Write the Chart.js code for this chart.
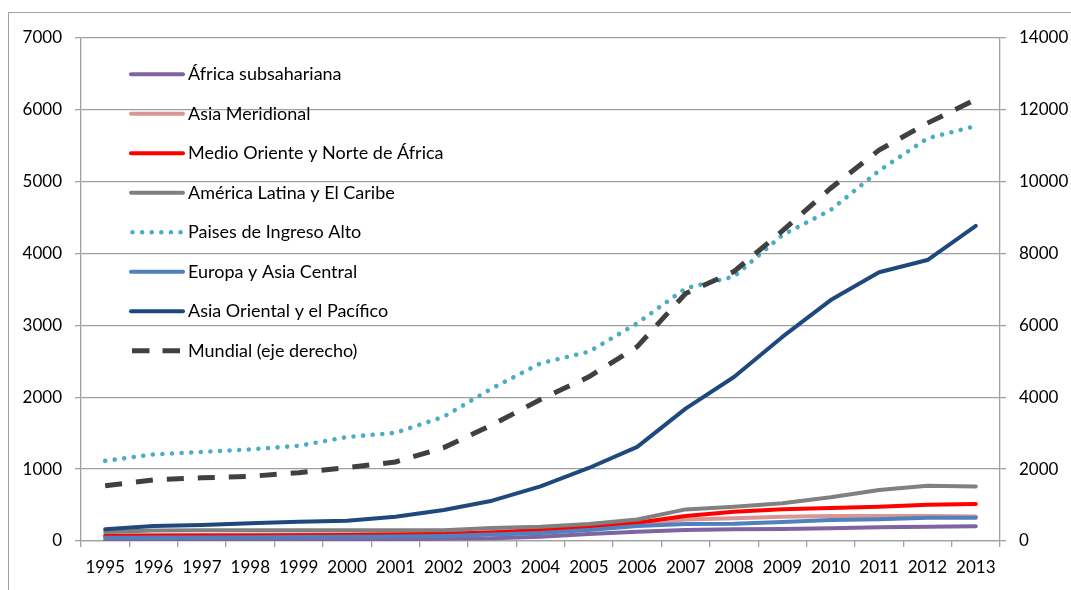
<!DOCTYPE html>
<html>
<head>
<meta charset="utf-8">
<script src="https://cdn.jsdelivr.net/npm/chart.js@4/dist/chart.umd.min.js"></script>
<style>
  html, body { margin: 0; padding: 0; background: #fff; }
  #wrap { position: relative; width: 1071px; height: 590px; }
</style>
</head>
<body>
<div id="wrap"><canvas id="c" width="1071" height="590"></canvas></div>
<script>
const years = ['1995','1996','1997','1998','1999','2000','2001','2002','2003','2004','2005','2006','2007','2008','2009','2010','2011','2012','2013'];

const africaSub   = [15, 17, 18, 20, 22, 24, 26, 30, 37, 60, 97, 130, 153, 163, 167, 177, 190, 199, 204];
const asiaMerid   = [80, 82, 85, 88, 90, 95, 100, 108, 125, 150, 180, 230, 300, 316, 338, 348, 348, 348, 340];
const medioOr     = [70, 72, 75, 78, 80, 85, 90, 100, 120, 153, 199, 255, 348, 408, 441, 459, 477, 505, 515];
const americaLat  = [125, 145, 150, 150, 148, 150, 148, 150, 180, 200, 237, 300, 440, 477, 525, 608, 710, 770, 760];
const ingresoAlto = [1115, 1205, 1240, 1275, 1325, 1447, 1505, 1730, 2125, 2473, 2634, 3030, 3517, 3680, 4258, 4606, 5153, 5604, 5775];
const europaAsia  = [46, 48, 50, 52, 55, 58, 62, 70, 90, 111, 153, 209, 237, 240, 264, 292, 302, 324, 325];
const asiaOrient  = [163, 209, 223, 247, 269, 282, 338, 431, 561, 760, 1016, 1310, 1843, 2282, 2840, 3353, 3740, 3910, 4384];
const mundial     = [1540, 1700, 1760, 1800, 1900, 2040, 2200, 2600, 3230, 3940, 4570, 5410, 6890, 7500, 8630, 9820, 10880, 11630, 12290];

const leftTicks  = [0, 1000, 2000, 3000, 4000, 5000, 6000, 7000];
const rightTicks = [0, 2000, 4000, 6000, 8000, 10000, 12000, 14000];

const names = ['África subsahariana', 'Asia Meridional', 'Medio Oriente y Norte de África', 'América Latina y El Caribe', 'Paises de Ingreso Alto', 'Europa y Asia Central', 'Asia Oriental y el Pacífico', 'Mundial (eje derecho)'];
const series = [africaSub, asiaMerid, medioOr, americaLat, ingresoAlto, europaAsia, asiaOrient, mundial];
const colors = ['#8064A2', '#D99694', '#FF0000', '#808080', '#4BACC6', '#4F81BD', '#1F497D', '#404040'];

const FONT = 'Lato, "Open Sans", sans-serif';
const FSIZE = 18;
const TSIZE = 17;
const GRID = '#A0A0A0';

const datasets = series.map((d, i) => {
  const ds = {
    label: names[i],
    data: d,
    borderColor: colors[i],
    backgroundColor: colors[i],
    borderWidth: 4,
    pointRadius: 0,
    pointHoverRadius: 0,
    tension: 0,
    fill: false,
    yAxisID: i === 7 ? 'y1' : 'y',
    order: 7 - i,
    borderCapStyle: 'round',
    borderJoinStyle: 'round'
  };
  if (i === 4) { ds.borderDash = [0.01, 9.6]; ds.borderWidth = 4.6; ds.borderCapStyle = 'round'; }
  if (i === 7) { ds.borderDash = [17, 14]; ds.borderWidth = 5; ds.borderCapStyle = 'butt'; ds.borderJoinStyle = 'miter'; }
  return ds;
});

const frame = {
  id: 'frame',
  beforeDraw(chart) {
    const ctx = chart.ctx;
    ctx.save();
    ctx.fillStyle = '#fff';
    ctx.fillRect(0, 0, chart.width, chart.height);
    ctx.strokeStyle = GRID;
    ctx.lineWidth = 1;
    ctx.strokeRect(8.5, 12.5, 1200, 700);
    ctx.restore();
  }
};

const insideLegend = {
  id: 'insideLegend',
  afterDatasetsDraw(chart) {
    const ctx = chart.ctx;
    ctx.save();
    const x0 = 131, x1 = 183, tx = 188;
    const yStart = 74.3, step = 39.5;
    chart.data.datasets.forEach((ds, i) => {
      const y = yStart + i * step;
      ctx.beginPath();
      ctx.strokeStyle = ds.borderColor;
      ctx.lineWidth = ds.borderWidth;
      ctx.lineCap = ds.borderCapStyle || 'round';
      ctx.setLineDash(ds.borderDash || []);
      if (i === 7) { ctx.lineWidth = 5; ctx.setLineDash([17.5, 13]); ctx.moveTo(132, y); ctx.lineTo(183, y); }
      else if (i === 4) { ctx.moveTo(132.5, y); ctx.lineTo(182, y); }
      else { ctx.moveTo(x0, y); ctx.lineTo(x1, y); }
      ctx.stroke();
      ctx.setLineDash([]);
      ctx.fillStyle = '#000';
      ctx.font = FSIZE + 'px ' + FONT;
      ctx.textBaseline = 'middle';
      ctx.textAlign = 'left';
      ctx.fillText(ds.label, tx, y);
    });
    ctx.restore();
  }
};

const plain = v => String(v);

new Chart(document.getElementById('c'), {
  type: 'line',
  data: { labels: years, datasets },
  plugins: [frame, insideLegend],
  options: {
    responsive: false,
    animation: false,
    devicePixelRatio: 1,
    layout: { padding: { top: 38, left: 0, right: 0, bottom: 0 } },
    plugins: { legend: { display: false }, tooltip: { enabled: false } },
    scales: {
      x: {
        offset: true,
        grid: { offset: true, drawOnChartArea: false, drawTicks: true, tickLength: 6, color: GRID, lineWidth: 1.3 },
        border: { display: true, color: GRID, width: 1.3 },
        ticks: { color: '#000', font: { family: FONT, size: TSIZE }, padding: 10, maxRotation: 0, autoSkip: false },
        afterFit(s) { s.height = 49; }
      },
      y: {
        position: 'left',
        min: 0, max: 7000,
        afterBuildTicks(s) { s.ticks = leftTicks.map(v => ({ value: v })); },
        grid: { color: GRID, lineWidth: 1.3, tickLength: 6, drawTicks: true },
        border: { display: true, color: GRID, width: 1.3 },
        ticks: { color: '#000', font: { family: FONT, size: TSIZE }, padding: 13, callback: plain },
        afterFit(s) { s.width = 81; }
      },
      y1: {
        position: 'right',
        min: 0, max: 14000,
        afterBuildTicks(s) { s.ticks = rightTicks.map(v => ({ value: v })); },
        grid: { drawOnChartArea: false, color: GRID, lineWidth: 1.3, tickLength: 6, drawTicks: true },
        border: { display: true, color: GRID, width: 1.3 },
        ticks: { color: '#000', font: { family: FONT, size: TSIZE }, padding: 13, callback: plain },
        afterFit(s) { s.width = 71; }
      }
    }
  }
});
</script>
</body>
</html>
